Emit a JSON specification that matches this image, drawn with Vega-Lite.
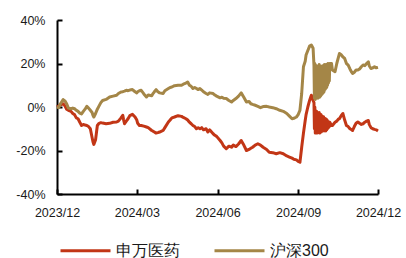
{
  "$schema": "https://vega.github.io/schema/vega-lite/v6.json",
  "width": 321,
  "height": 174,
  "autosize": "none",
  "padding": {"left": 57, "top": 20, "right": 28, "bottom": 64},
  "background": "white",
  "config": {
    "view": {"stroke": null},
    "font": "Liberation Sans",
    "axis": {
      "grid": false,
      "domainColor": "#000000",
      "domainWidth": 2,
      "tickColor": "#000000",
      "tickWidth": 2,
      "labelColor": "#1a1a1a",
      "labelFont": "Liberation Sans",
      "labelFontSize": 12.5,
      "title": null
    }
  },
  "data": {
    "values": [
      {"d":"2023-12-01","申万医药":0,"沪深300":0},
      {"d":"2023-12-03","申万医药":0.5,"沪深300":-0.3},
      {"d":"2023-12-05","申万医药":1,"沪深300":1.5},
      {"d":"2023-12-08","申万医药":1.5,"沪深300":3.4},
      {"d":"2023-12-10","申万医药":0.5,"沪深300":2.8},
      {"d":"2023-12-12","申万医药":-1,"沪深300":1.5},
      {"d":"2023-12-14","申万医药":-1.5,"沪深300":-0.5},
      {"d":"2023-12-17","申万医药":-2,"沪深300":-0.8},
      {"d":"2023-12-19","申万医药":-3,"沪深300":-0.5},
      {"d":"2023-12-21","申万医药":-3.5,"沪深300":-0.8},
      {"d":"2023-12-23","申万医药":-5,"沪深300":-1.5},
      {"d":"2023-12-25","申万医药":-5.4,"沪深300":-2},
      {"d":"2023-12-27","申万医药":-7,"沪深300":-2.8},
      {"d":"2023-12-29","申万医药":-8.5,"沪深300":-3.2},
      {"d":"2023-12-31","申万医药":-8,"沪深300":-2},
      {"d":"2024-01-02","申万医药":-8.3,"沪深300":-1},
      {"d":"2024-01-04","申万医药":-8.5,"沪深300":0.3},
      {"d":"2024-01-06","申万医药":-9,"沪深300":-0.5},
      {"d":"2024-01-08","申万医药":-10,"沪深300":-1.5},
      {"d":"2024-01-10","申万医药":-14,"沪深300":-2.5},
      {"d":"2024-01-11","申万医药":-16,"沪深300":-3.8},
      {"d":"2024-01-12","申万医药":-17.2,"沪深300":-4.6},
      {"d":"2024-01-14","申万医药":-15,"沪深300":-3},
      {"d":"2024-01-16","申万医药":-8.5,"沪深300":-1},
      {"d":"2024-01-18","申万医药":-7.5,"沪深300":0.5},
      {"d":"2024-01-20","申万医药":-7.2,"沪深300":2},
      {"d":"2024-01-22","申万医药":-7.4,"沪深300":3},
      {"d":"2024-01-26","申万医药":-7.7,"沪深300":3.5},
      {"d":"2024-01-30","申万医药":-7.5,"沪深300":4.6},
      {"d":"2024-02-03","申万医药":-7,"沪深300":5},
      {"d":"2024-02-07","申万医药":-6.9,"沪深300":5.4},
      {"d":"2024-02-09","申万医药":-6.5,"沪深300":6.2},
      {"d":"2024-02-12","申万医药":-5,"沪深300":6.9},
      {"d":"2024-02-14","申万医药":-3.8,"沪深300":7},
      {"d":"2024-02-15","申万医药":-6,"沪深300":7.2},
      {"d":"2024-02-16","申万医药":-7.7,"沪深300":7.3},
      {"d":"2024-02-18","申万医药":-6.5,"沪深300":7.7},
      {"d":"2024-02-20","申万医药":-5.4,"沪深300":7.5},
      {"d":"2024-02-22","申万医药":-4,"沪深300":7.8},
      {"d":"2024-02-25","申万医药":-3.4,"沪深300":8},
      {"d":"2024-02-28","申万医药":-4.6,"沪深300":7},
      {"d":"2024-03-01","申万医药":-6,"沪深300":6.5},
      {"d":"2024-03-02","申万医药":-7.5,"沪深300":7},
      {"d":"2024-03-04","申万医药":-8.5,"沪深300":7.5},
      {"d":"2024-03-06","申万医药":-8.5,"沪深300":7.7},
      {"d":"2024-03-09","申万医药":-8.8,"沪深300":6},
      {"d":"2024-03-12","申万医药":-9.2,"沪深300":4.6},
      {"d":"2024-03-14","申万医药":-9.5,"沪深300":5.5},
      {"d":"2024-03-18","申万医药":-10.8,"沪深300":5.2},
      {"d":"2024-03-19","申万医药":-11,"沪深300":5.9},
      {"d":"2024-03-21","申万医药":-11.5,"沪深300":7},
      {"d":"2024-03-23","申万医药":-12,"沪深300":8},
      {"d":"2024-03-25","申万医药":-11.8,"沪深300":7},
      {"d":"2024-03-27","申万医药":-11.5,"沪深300":6.5},
      {"d":"2024-03-31","申万医药":-10.8,"沪深300":6.2},
      {"d":"2024-04-02","申万医药":-9.5,"沪深300":7.5},
      {"d":"2024-04-06","申万医药":-6.9,"沪深300":8.5},
      {"d":"2024-04-08","申万医药":-6,"沪深300":9},
      {"d":"2024-04-10","申万医药":-5,"沪深300":9.2},
      {"d":"2024-04-13","申万医药":-4.6,"沪深300":9.8},
      {"d":"2024-04-17","申万医药":-4,"沪深300":10},
      {"d":"2024-04-21","申万医药":-4.3,"沪深300":10},
      {"d":"2024-04-23","申万医药":-4.8,"沪深300":10.5},
      {"d":"2024-04-26","申万医药":-5.4,"沪深300":11},
      {"d":"2024-04-28","申万医药":-6,"沪深300":11.5},
      {"d":"2024-04-30","申万医药":-7,"沪深300":10},
      {"d":"2024-05-02","申万医药":-7.7,"沪深300":9.5},
      {"d":"2024-05-04","申万医药":-8.5,"沪深300":8.5},
      {"d":"2024-05-06","申万医药":-9,"沪深300":9},
      {"d":"2024-05-08","申万医药":-10,"沪深300":8.5},
      {"d":"2024-05-10","申万医药":-9.5,"沪深300":8},
      {"d":"2024-05-12","申万医药":-10,"沪深300":8.5},
      {"d":"2024-05-14","申万医药":-9.5,"沪深300":7.8},
      {"d":"2024-05-16","申万医药":-10.5,"沪深300":7},
      {"d":"2024-05-19","申万医药":-10,"沪深300":6.2},
      {"d":"2024-05-21","申万医药":-11.5,"沪深300":5.8},
      {"d":"2024-05-23","申万医药":-10.5,"沪深300":6.5},
      {"d":"2024-05-27","申万医药":-12.3,"沪深300":6.2},
      {"d":"2024-05-29","申万医药":-13,"沪深300":5.5},
      {"d":"2024-05-31","申万医药":-13.5,"沪深300":5},
      {"d":"2024-06-04","申万医药":-15.4,"沪深300":4.2},
      {"d":"2024-06-06","申万医药":-16.5,"沪深300":4.5},
      {"d":"2024-06-08","申万医药":-18,"沪深300":4},
      {"d":"2024-06-11","申万医药":-19.2,"沪深300":3.9},
      {"d":"2024-06-14","申万医药":-18,"沪深300":3},
      {"d":"2024-06-17","申万医药":-18.5,"沪深300":2.3},
      {"d":"2024-06-19","申万医药":-17.5,"沪深300":3},
      {"d":"2024-06-22","申万医药":-18.2,"沪深300":3.9},
      {"d":"2024-06-25","申万医药":-17,"沪深300":5},
      {"d":"2024-06-28","申万医药":-15.4,"沪深300":6.5},
      {"d":"2024-07-01","申万医药":-17.5,"沪深300":4.5},
      {"d":"2024-07-04","申万医药":-20,"沪深300":2.3},
      {"d":"2024-07-07","申万医药":-19.5,"沪深300":2.5},
      {"d":"2024-07-09","申万医药":-19,"沪深300":1.5},
      {"d":"2024-07-11","申万医药":-18.5,"沪深300":1.2},
      {"d":"2024-07-14","申万医药":-17.5,"沪深300":0.8},
      {"d":"2024-07-17","申万医药":-16.9,"沪深300":0.3},
      {"d":"2024-07-20","申万医药":-17.5,"沪深300":-0.3},
      {"d":"2024-07-23","申万医药":-18.5,"沪深300":0.2},
      {"d":"2024-07-27","申万医药":-19.5,"沪深300":0.3},
      {"d":"2024-07-30","申万医药":-20.8,"沪深300":0},
      {"d":"2024-08-03","申万医药":-21,"沪深300":-0.3},
      {"d":"2024-08-07","申万医药":-21.5,"沪深300":-0.8},
      {"d":"2024-08-11","申万医药":-21,"沪深300":-1.5},
      {"d":"2024-08-15","申万医药":-21.5,"沪深300":-2},
      {"d":"2024-08-19","申万医药":-22.5,"沪深300":-3},
      {"d":"2024-08-22","申万医药":-23,"沪深300":-4.2},
      {"d":"2024-08-25","申万医药":-23.5,"沪深300":-5.4},
      {"d":"2024-08-27","申万医药":-24,"沪深300":-5.2},
      {"d":"2024-08-30","申万医药":-24.3,"沪深300":-4.6},
      {"d":"2024-09-01","申万医药":-25,"沪深300":-3.5},
      {"d":"2024-09-03","申万医药":-25.4,"沪深300":-1.5},
      {"d":"2024-09-05","申万医药":-18.5,"沪深300":6.2},
      {"d":"2024-09-07","申万医药":-12,"沪深300":18.5},
      {"d":"2024-09-09","申万医药":-6.2,"沪深300":21},
      {"d":"2024-09-10","申万医药":-3.5,"沪深300":23.9},
      {"d":"2024-09-12","申万医药":0,"沪深300":26},
      {"d":"2024-09-14","申万医药":3,"沪深300":28},
      {"d":"2024-09-16","申万医药":5.4,"沪深300":28.5},
      {"d":"2024-09-18","申万医药":3,"沪深300":27},
      {"d":"2024-09-19","申万医药":2,"沪深300":19},
      {"d":"2024-09-19T12:00:00Z","申万医药":-10,"沪深300":4},
      {"d":"2024-09-20","申万医药":0,"沪深300":20},
      {"d":"2024-09-20T12:00:00Z","申万医药":-12,"沪深300":3.5},
      {"d":"2024-09-21","申万医药":-3,"沪深300":18},
      {"d":"2024-09-21T12:00:00Z","申万医药":-11,"沪深300":4},
      {"d":"2024-09-22","申万医药":-2,"沪深300":19},
      {"d":"2024-09-22T12:00:00Z","申万医药":-12,"沪深300":5},
      {"d":"2024-09-23","申万医药":-4,"沪深300":18.5},
      {"d":"2024-09-23T12:00:00Z","申万医药":-10,"沪深300":4},
      {"d":"2024-09-24","申万医药":-3,"沪深300":18},
      {"d":"2024-09-24T12:00:00Z","申万医药":-11.5,"沪深300":5},
      {"d":"2024-09-25","申万医药":-2.5,"沪深300":19.5},
      {"d":"2024-09-25T12:00:00Z","申万医药":-12,"沪深300":4.5},
      {"d":"2024-09-26","申万医药":-4,"沪深300":19},
      {"d":"2024-09-26T12:00:00Z","申万医药":-11,"沪深300":5},
      {"d":"2024-09-27","申万医药":-3.5,"沪深300":18.5},
      {"d":"2024-09-27T12:00:00Z","申万医药":-11.5,"沪深300":5.5},
      {"d":"2024-09-28","申万医药":-4,"沪深300":18},
      {"d":"2024-09-28T12:00:00Z","申万医药":-11,"沪深300":6},
      {"d":"2024-09-29","申万医药":-5,"沪深300":19},
      {"d":"2024-09-29T12:00:00Z","申万医药":-10.5,"沪深300":6.5},
      {"d":"2024-09-30","申万医药":-4.5,"沪深300":19},
      {"d":"2024-09-30T12:00:00Z","申万医药":-11,"沪深300":7},
      {"d":"2024-10-01","申万医药":-5,"沪深300":19.5},
      {"d":"2024-10-01T12:00:00Z","申万医药":-10,"沪深300":8},
      {"d":"2024-10-02","申万医药":-6,"沪深300":19},
      {"d":"2024-10-02T12:00:00Z","申万医药":-11,"沪深300":8.5},
      {"d":"2024-10-03","申万医药":-5.5,"沪深300":19.5},
      {"d":"2024-10-03T12:00:00Z","申万医药":-10.5,"沪深300":9},
      {"d":"2024-10-04","申万医药":-6,"沪深300":19},
      {"d":"2024-10-04T12:00:00Z","申万医药":-10,"沪深300":10},
      {"d":"2024-10-05","申万医药":-6.5,"沪深300":20},
      {"d":"2024-10-05T12:00:00Z","申万医药":-9.5,"沪深300":11},
      {"d":"2024-10-06","申万医药":-7,"沪深300":19.5},
      {"d":"2024-10-06T12:00:00Z","申万医药":-9,"沪深300":12},
      {"d":"2024-10-07","申万医药":-7,"沪深300":20},
      {"d":"2024-10-09","申万医药":-8.5,"沪深300":20},
      {"d":"2024-10-10","申万医药":-8.5,"沪深300":17},
      {"d":"2024-10-13","申万医药":-7,"沪深300":16.2},
      {"d":"2024-10-15","申万医药":-6.5,"沪深300":20},
      {"d":"2024-10-17","申万医药":-5.5,"沪深300":23},
      {"d":"2024-10-18","申万医药":-5.4,"沪深300":24.6},
      {"d":"2024-10-20","申万医药":-4,"沪深300":24},
      {"d":"2024-10-22","申万医药":-3,"沪深300":23},
      {"d":"2024-10-24","申万医药":-6,"沪深300":22.3},
      {"d":"2024-10-26","申万医药":-8.5,"沪深300":20},
      {"d":"2024-10-28","申万医药":-9,"沪深300":19.3},
      {"d":"2024-10-30","申万医药":-10,"沪深300":17.5},
      {"d":"2024-11-01","申万医药":-10.5,"沪深300":16},
      {"d":"2024-11-02","申万医药":-10.8,"沪深300":15.4},
      {"d":"2024-11-04","申万医药":-9,"沪深300":16},
      {"d":"2024-11-06","申万医药":-7.5,"沪深300":17},
      {"d":"2024-11-08","申万医药":-6.9,"沪深300":17},
      {"d":"2024-11-10","申万医药":-7.5,"沪深300":17.5},
      {"d":"2024-11-12","申万医药":-8,"沪深300":18.5},
      {"d":"2024-11-14","申万医药":-7.7,"沪深300":19.3},
      {"d":"2024-11-16","申万医药":-7,"沪深300":19},
      {"d":"2024-11-18","申万医药":-6.5,"沪深300":20},
      {"d":"2024-11-20","申万医药":-6.2,"沪深300":20.8},
      {"d":"2024-11-21","申万医药":-8,"沪深300":19},
      {"d":"2024-11-23","申万医药":-9.5,"沪深300":17.7},
      {"d":"2024-11-25","申万医药":-10,"沪深300":18},
      {"d":"2024-11-27","申万医药":-10.3,"沪深300":18.5},
      {"d":"2024-11-29","申万医药":-10.5,"沪深300":18},
      {"d":"2024-12-01","申万医药":-11,"沪深300":18.2}
    ]
  },
  "transform": [
    {"fold": ["申万医药", "沪深300"], "as": ["series", "value"]}
  ],
  "mark": {"type": "line", "strokeWidth": 3, "interpolate": "linear", "strokeJoin": "round"},
  "encoding": {
    "x": {
      "field": "d",
      "type": "temporal",
      "scale": {
        "type": "utc",
        "domain": [
          {"year": 2023, "month": 12, "date": 1, "utc": true},
          {"year": 2024, "month": 12, "date": 1, "utc": true}
        ]
      },
      "axis": {
        "values": [
          {"year": 2023, "month": 12, "date": 1, "utc": true},
          {"year": 2024, "month": 3, "date": 1, "utc": true},
          {"year": 2024, "month": 6, "date": 1, "utc": true},
          {"year": 2024, "month": 9, "date": 1, "utc": true},
          {"year": 2024, "month": 12, "date": 1, "utc": true}
        ],
        "labelExpr": "utcFormat(datum.value, '%Y/%m')",
        "tickSize": -5,
        "labelPadding": 17,
        "labelFlush": false,
        "labelOverlap": false
      }
    },
    "y": {
      "field": "value",
      "type": "quantitative",
      "scale": {"domain": [-40, 40], "nice": false, "zero": false},
      "axis": {
        "values": [-40, -20, 0, 20, 40],
        "labelExpr": "datum.value + '%'",
        "tickSize": -5,
        "labelPadding": 17
      }
    },
    "color": {
      "field": "series",
      "type": "nominal",
      "scale": {"domain": ["申万医药", "沪深300"], "range": ["#C23616", "#A48647"]},
      "legend": {
        "title": null,
        "orient": "none",
        "direction": "horizontal",
        "legendX": 2,
        "legendY": 204,
        "symbolType": "stroke",
        "symbolSize": 2500,
        "symbolStrokeWidth": 3,
        "labelFont": "Liberation Sans",
        "labelFontSize": 16,
        "labelColor": "#1a1a1a",
        "labelOffset": 4,
        "columnPadding": 28
      }
    }
  }
}
